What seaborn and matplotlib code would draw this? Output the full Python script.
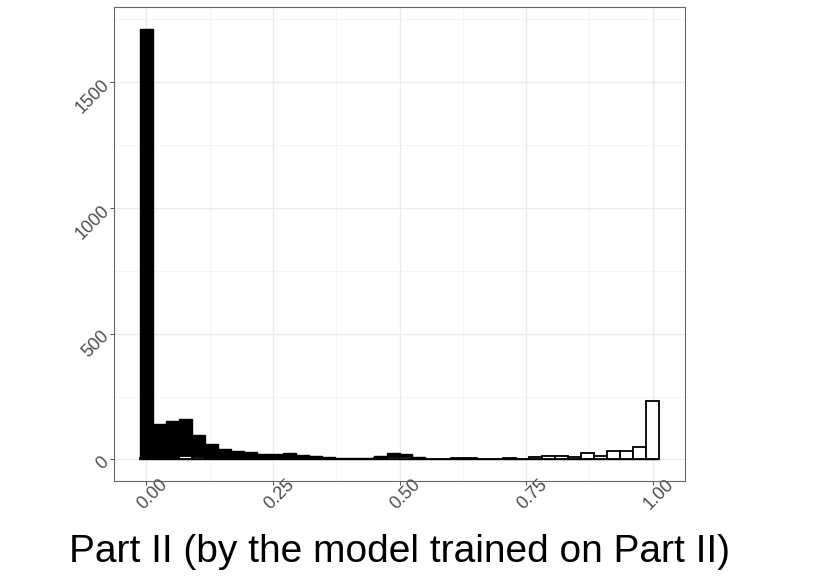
import matplotlib
matplotlib.use("Agg")
import matplotlib.pyplot as plt
import numpy as np
import pandas as pd
import seaborn as sns

# histogram counts, 40 bins centred on k/39
bin_centers = [k / 39 for k in range(40)]
counts_neg = [1713, 142, 154, 159, 98, 62, 42, 33, 29, 23,
              21, 26, 17, 13, 9, 7, 7, 7, 13, 24,
              20, 8, 3, 3, 6, 5, 3, 3, 6, 3,
              11, 14, 12, 8, 6, 5, 4, 3, 2, 1]
counts_pos = [5, 3, 4, 12, 9, 5, 2, 1, 2, 2,
              3, 7, 3, 2, 2, 2, 3, 3, 4, 11,
              8, 3, 1, 2, 5, 5, 2, 2, 5, 3,
              9, 15, 13, 9, 25, 15, 34, 34, 48, 231]
x_ticks = [0.0, 0.25, 0.5, 0.75, 1.0]
x_ticklabels = ["0.00", "0.25", "0.50", "0.75", "1.00"]
y_ticks = [0, 500, 1000, 1500]
x_title = "Part II (by the model trained on Part II)"

df = pd.DataFrame({"score": bin_centers, "neg": counts_neg, "pos": counts_pos})
width = 1 / 39
brange = (-0.5 * width, 39.5 * width)

sns.set_style("white")
plt.rcParams["font.family"] = ["Liberation Sans", "DejaVu Sans"]

fig = plt.figure(figsize=(8.36, 5.79), dpi=100)
ax = fig.add_axes([114 / 836, 1 - 481 / 579, 571 / 836, 474 / 579])

sns.histplot(data=df, x="score", weights="neg", binwidth=width, binrange=brange,
             color="black", edgecolor="black", linewidth=1.0, alpha=1, ax=ax, zorder=3)
sns.histplot(data=df, x="score", weights="pos", binwidth=width, binrange=brange,
             color="white", edgecolor="black", linewidth=1.3, alpha=1, ax=ax, zorder=4)

ax.set_xlim(-0.064, 1.064)
ax.set_ylim(-85.6, 1798.6)
ax.set_xticks(x_ticks)
ax.set_xticklabels(x_ticklabels)
ax.set_yticks(y_ticks)
ax.set_xticks([0.125, 0.375, 0.625, 0.875], minor=True)
ax.set_yticks([250, 750, 1250, 1750], minor=True)
ax.grid(which="major", color="#ebebeb", linewidth=1.0, zorder=0)
ax.grid(which="minor", color="#f2f2f2", linewidth=0.6, zorder=0)
ax.set_axisbelow(True)
ax.tick_params(which="major", length=2.75, width=0.6, color="#333333", pad=2.5,
               labelsize=13, labelcolor="#4d4d4d", direction="out", bottom=True, left=True)
ax.tick_params(which="minor", length=0)
for lab in ax.get_xticklabels():
    lab.set_rotation(45)
    lab.set_ha("center")
    lab.set_va("top")
    lab.set_rotation_mode("anchor")
for lab in ax.get_yticklabels():
    lab.set_rotation(45)
    lab.set_ha("right")
    lab.set_va("center")
    lab.set_rotation_mode("anchor")
for sp in ax.spines.values():
    sp.set_color("#666666")
    sp.set_linewidth(0.8)

ax.set_ylabel("")
ax.set_xlabel(x_title, fontsize=28, color="black", va="baseline")
ax.xaxis.set_label_coords(0.5, -(562 - 481) / 474)

fig.savefig("out.png", dpi=100)
